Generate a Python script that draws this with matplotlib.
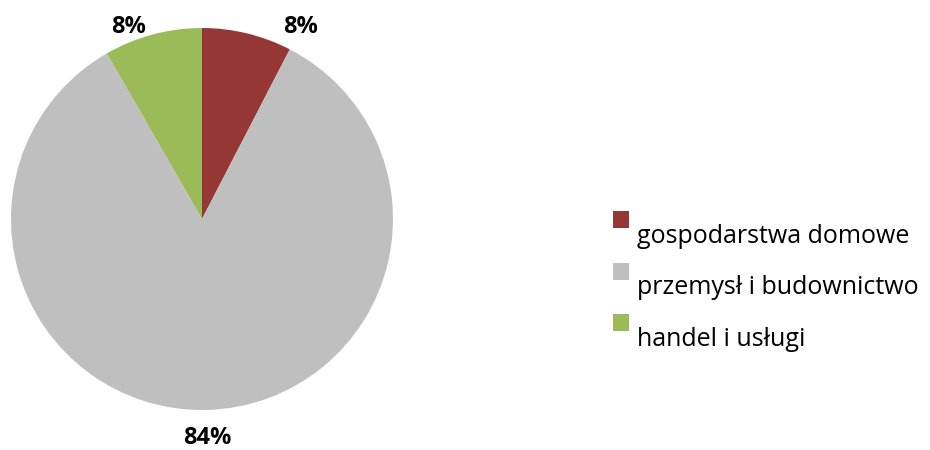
import matplotlib
matplotlib.use('Agg')

import matplotlib.pyplot as plt
from matplotlib.patches import Rectangle

# data (clockwise from 12 o'clock)
categories = ['gospodarstwa domowe', 'przemysł i budownictwo', 'handel i usługi']
shares = [7.6, 84.1, 8.3]
pct_labels = ['8%', '84%', '8%']
colors = ['#953735', '#BFBFBF', '#9BBB59']

# where the percentage labels sit, in pie radius units
label_pos = [(0.518, 1.005), (0.03, -1.145), (-0.387, 1.005)]

plt.rcParams['font.family'] = ['Open Sans', 'DejaVu Sans']

W, H = 930, 450
fig = plt.figure(figsize=(W / 100, H / 100), dpi=100)
fig.patch.set_facecolor('white')

# pie: centre (202, 219) px, radius 191 px
cx, cy, r = 202, 219, 191
ax = fig.add_axes([(cx - r) / W, (H - cy - r) / H, 2 * r / W, 2 * r / H])
ax.pie(shares, colors=colors, startangle=90, counterclock=False,
       radius=1, wedgeprops=dict(linewidth=0))
ax.set_xlim(-1, 1)
ax.set_ylim(-1, 1)
ax.set_aspect('equal')
ax.axis('off')

for txt, (x, y) in zip(pct_labels, label_pos):
    ax.text(x, y, txt, ha='center', va='center', fontsize=17,
            fontweight='bold', clip_on=False)

# legend drawn by hand (square above-left of text, like the original)
top0, step = 211, 51.5
for i, (name, col) in enumerate(zip(categories, colors)):
    top = top0 + i * step
    fig.patches.append(Rectangle((613 / W, (H - top - 17) / H), 16 / W, 17 / H,
                                 facecolor=col, edgecolor='none',
                                 transform=fig.transFigure, figure=fig))
    fig.text(637 / W, (H - top - 32) / H, name, ha='left', va='baseline',
             fontsize=18, color='black')

fig.savefig('out.png', dpi=100, facecolor='white')
